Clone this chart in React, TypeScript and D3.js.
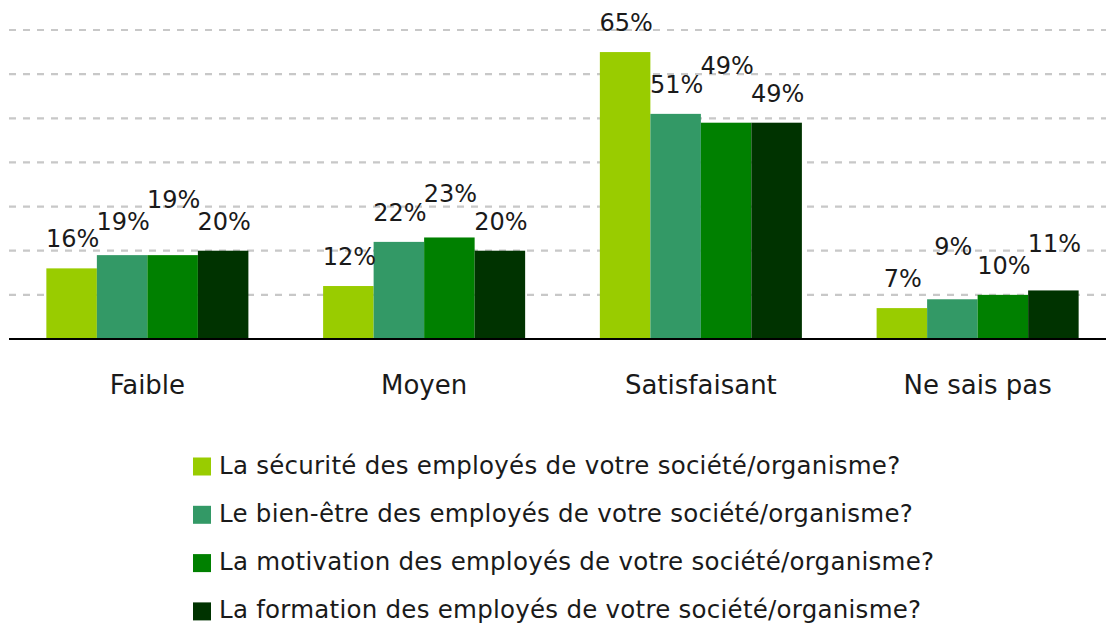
import React from "react";
import * as d3 from "d3";

const categories = ["Faible", "Moyen", "Satisfaisant", "Ne sais pas"];
const seriesNames = [
  "La sécurité des employés de votre société/organisme?",
  "Le bien-être des employés de votre société/organisme?",
  "La motivation des employés de votre société/organisme?",
  "La formation des employés de votre société/organisme?",
];
const securite = [16, 12, 65, 7];
const bienEtre = [19, 22, 51, 9];
const motivation = [19, 23, 49, 10];
const formation = [20, 20, 49, 11];
const yTicks = [0, 10, 20, 30, 40, 50, 60, 70];

const seriesValues = [securite, bienEtre, motivation, formation];
const colors = ["#99CC00", "#339966", "#008000", "#003300"];
// extra upward shift (px) of data labels to avoid overlap, per series per category
const labelRaise = [
  [0, 0, 0, 0],
  [4, 0, 0, 23],
  [26, 14, 28, 0],
  [0, 0, 0, 17],
];

const W = 1106;
const H = 623;
const FONT = "'DejaVu Sans', Verdana, sans-serif";

export default function App() {
  const x0 = d3
    .scaleBand<string>()
    .domain(categories)
    .range([9, 1116])
    .paddingInner(0.27)
    .paddingOuter(0.135);
  const x1 = d3
    .scaleBand<number>()
    .domain(d3.range(seriesValues.length))
    .range([0, x0.bandwidth()]);
  const y = d3.scaleLinear().domain([0, 70]).range([339, 30]);

  return (
    <svg
      width={W}
      height={H}
      style={{ position: "absolute", left: 0, top: 0, background: "#fff" }}
    >
      <rect x={0} y={0} width={W} height={H} fill="#fff" />
      {yTicks
        .filter((t) => t > 0)
        .map((t) => (
          <line
            key={t}
            x1={9}
            x2={W}
            y1={y(t)}
            y2={y(t)}
            stroke="#c8c8c8"
            strokeWidth={2.2}
            strokeDasharray="7 7"
          />
        ))}
      {categories.map((c, ci) => (
        <g key={c} transform={`translate(${x0(c)},0)`}>
          {seriesValues.map((vals, si) => (
            <rect
              key={si}
              x={x1(si)}
              y={y(vals[ci])}
              width={x1.bandwidth()}
              height={y(0) - y(vals[ci])}
              fill={colors[si]}
            />
          ))}
          {seriesValues.map((vals, si) => (
            <text
              key={"l" + si}
              x={(x1(si) as number) + x1.bandwidth() / 2 + 1}
              y={y(vals[ci]) - 30 - labelRaise[si][ci] + 9}
              textAnchor="middle"
              fontFamily={FONT}
              fontSize={24}
              fill="#1a1a1a"
            >
              {vals[ci] + "%"}
            </text>
          ))}
        </g>
      ))}
      <line x1={9} x2={W} y1={y(0)} y2={y(0)} stroke="#000" strokeWidth={2.2} />
      {categories.map((c) => (
        <text
          key={"c" + c}
          x={(x0(c) as number) + x0.bandwidth() / 2}
          y={394}
          textAnchor="middle"
          fontFamily={FONT}
          fontSize={26}
          fill="#1a1a1a"
        >
          {c}
        </text>
      ))}
      {seriesNames.map((n, i) => (
        <g key={n} transform={`translate(193,${466.5 + i * 48.3})`}>
          <rect x={0} y={-9} width={18} height={18} fill={colors[i]} />
          <text
            x={26}
            y={7}
            fontFamily={FONT}
            fontSize={24.5}
            letterSpacing={0.25}
            fill="#1a1a1a"
          >
            {n}
          </text>
        </g>
      ))}
    </svg>
  );
}
